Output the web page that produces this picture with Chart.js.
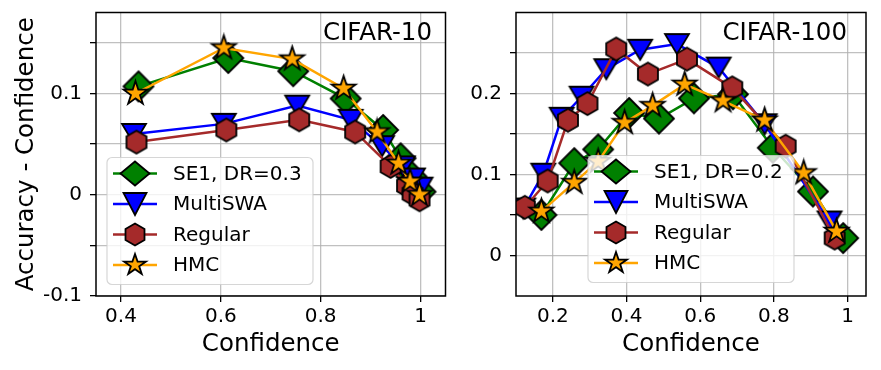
<!DOCTYPE html>
<html>
<head>
<meta charset="utf-8">
<script src="https://cdn.jsdelivr.net/npm/chart.js@4.4.1/dist/chart.umd.min.js"></script>
<style>
  body { margin: 0; background: #fff; }
  #wrap { position: relative; width: 881px; height: 370px; }
  #c10 { position: absolute; left: 0; top: 0; }
  #c100 { position: absolute; left: 450px; top: 0; }
</style>
</head>
<body>
<div id="wrap">
  <canvas id="c10" width="458" height="370"></canvas>
  <canvas id="c100" width="431" height="370"></canvas>
</div>
<script>
// ---- data: CIFAR-10 ----
const se1Conf10 = [0.435, 0.615, 0.745, 0.85, 0.925, 0.96, 0.982, 1.0];
const se1Gap10  = [0.107, 0.135, 0.122, 0.095, 0.064, 0.036, 0.018, 0.003];
const swaConf10 = [0.426, 0.606, 0.753, 0.86, 0.923, 0.965, 0.985, 1.0];
const swaGap10  = [0.060, 0.070, 0.088, 0.074, 0.048, 0.028, 0.016, 0.007];
const regConf10 = [0.431, 0.611, 0.757, 0.869, 0.94, 0.973, 0.984, 0.998];
const regGap10  = [0.052, 0.064, 0.074, 0.062, 0.028, 0.009, 0.001, -0.005];
const hmcConf10 = [0.429, 0.606, 0.743, 0.846, 0.913, 0.956, 0.979, 0.998];
const hmcGap10  = [0.100, 0.145, 0.134, 0.105, 0.062, 0.031, 0.013, 0.000];

// ---- data: CIFAR-100 ----
const se1Conf100 = [0.169, 0.258, 0.323, 0.407, 0.488, 0.583, 0.689, 0.797, 0.906, 0.988];
const se1Gap100  = [0.05, 0.114, 0.131, 0.176, 0.169, 0.194, 0.199, 0.133, 0.079, 0.0215];
const swaConf100 = [0.12, 0.174, 0.224, 0.278, 0.345, 0.437, 0.537, 0.65, 0.775, 0.951];
const swaGap100  = [0.058, 0.101, 0.17, 0.196, 0.23, 0.254, 0.261, 0.232, 0.162, 0.042];
const regConf100 = [0.124, 0.186, 0.241, 0.294, 0.372, 0.458, 0.564, 0.687, 0.832, 0.965];
const regGap100  = [0.0595, 0.092, 0.167, 0.1875, 0.255, 0.224, 0.2425, 0.207, 0.135, 0.0215];
const hmcConf100 = [0.169, 0.258, 0.323, 0.395, 0.471, 0.558, 0.662, 0.775, 0.881, 0.97];
const hmcGap100  = [0.0545, 0.09, 0.116, 0.164, 0.185, 0.2113, 0.191, 0.167, 0.102, 0.0297];

const labels10  = ['SE1, DR=0.3', 'MultiSWA', 'Regular', 'HMC'];
const labels100 = ['SE1, DR=0.2', 'MultiSWA', 'Regular', 'HMC'];

const xTicks10  = [0.4, 0.6, 0.8, 1];
const yTicks10  = [-0.1, -0.05, 0, 0.05, 0.1, 0.15];
const xTicks100 = [0.2, 0.4, 0.6, 0.8, 1];
const yTicks100 = [0, 0.05, 0.1, 0.15, 0.2, 0.25];

// ---- styling ----
const FONT = "'DejaVu Sans', sans-serif";
const colors = ['#008000', '#0000ff', '#a52a2a', '#ffa500'];
const shapes = ['diamond', 'triangle', 'hexagon', 'star'];
const plotSize = [[15, 15], [12, 10], [10, 11.5], [12.5, 12.5]];
const legendSize = [[14.5, 12], [11.5, 11], [9.5, 11], [11.5, 11]];

function tracePath(g, shape, hw, hh) {
  g.beginPath();
  if (shape === 'diamond') {
    g.moveTo(0, -hh); g.lineTo(hw, 0); g.lineTo(0, hh); g.lineTo(-hw, 0);
  } else if (shape === 'triangle') {
    g.moveTo(-hw, -hh); g.lineTo(hw, -hh); g.lineTo(0, hh);
  } else if (shape === 'hexagon') {
    g.moveTo(0, -hh); g.lineTo(hw, -hh / 2); g.lineTo(hw, hh / 2);
    g.lineTo(0, hh); g.lineTo(-hw, hh / 2); g.lineTo(-hw, -hh / 2);
  } else {
    for (let k = 0; k < 10; k++) {
      const a = -Math.PI / 2 + k * Math.PI / 5;
      const r = k % 2 ? 0.382 : 1;
      const px = Math.cos(a) * r * hw, py = Math.sin(a) * r * hh;
      if (k === 0) g.moveTo(px, py); else g.lineTo(px, py);
    }
  }
  g.closePath();
}

function drawMarker(g, shape, fill, hw, hh) {
  tracePath(g, shape, hw, hh);
  g.fillStyle = fill;
  g.fill();
  g.lineWidth = 1.8;
  g.strokeStyle = '#000';
  g.lineJoin = 'miter';
  g.stroke();
}

function markerCanvas(i) {
  const [hw, hh] = plotSize[i];
  const c = document.createElement('canvas');
  c.width = Math.round(hw * 2 + 6);
  c.height = Math.round(hh * 2 + 6);
  const g = c.getContext('2d');
  g.translate(c.width / 2, c.height / 2);
  drawMarker(g, shapes[i], colors[i], hw, hh);
  return c;
}

const markers = shapes.map((s, i) => markerCanvas(i));

function fmt(v) {
  return String(Math.round(v * 100) / 100);
}

function isMajor(v) {
  return Math.abs(v * 10 - Math.round(v * 10)) < 1e-6;
}

// frame, panel title and legend drawn on top
const decor = {
  id: 'decor',
  afterDraw(chart, args, o) {
    const g = chart.ctx;
    const a = chart.chartArea;
    g.save();
    g.strokeStyle = '#000';
    g.lineWidth = 1.5;
    g.strokeRect(a.left, a.top, a.right - a.left, a.bottom - a.top);

    g.fillStyle = '#000';
    g.font = '24.5px ' + FONT;
    g.textAlign = 'right';
    g.textBaseline = 'middle';
    g.fillText(o.title, a.right - o.titleRight, a.top + 21);

    // legend
    const lx = a.left + o.legendX, ly = a.top + o.legendY;
    const lw = 206, lh = 127;
    g.beginPath();
    g.roundRect(lx, ly, lw, lh, 5);
    g.fillStyle = 'rgba(255,255,255,0.8)';
    g.fill();
    g.strokeStyle = 'rgba(204,204,204,0.8)';
    g.lineWidth = 1.2;
    g.stroke();
    o.labels.forEach((txt, i) => {
      const y = ly + 16 + i * 30.5;
      g.strokeStyle = colors[i];
      g.lineWidth = 2.5;
      g.beginPath();
      g.moveTo(lx + 6, y);
      g.lineTo(lx + 50, y);
      g.stroke();
      g.save();
      g.translate(lx + 28, y);
      drawMarker(g, shapes[i], colors[i], legendSize[i][0], legendSize[i][1]);
      g.restore();
      g.fillStyle = '#000';
      g.font = '20px ' + FONT;
      g.textAlign = 'left';
      g.textBaseline = 'middle';
      g.fillText(txt, lx + 66, y + 1);
    });
    g.restore();
  }
};

function makeDatasets(confs, gaps, labels) {
  return confs.map((xs, i) => ({
    label: labels[i],
    data: xs.map((x, j) => ({ x: x, y: gaps[i][j] })),
    showLine: true,
    borderColor: colors[i],
    borderWidth: 2.5,
    pointStyle: markers[i],
    pointRadius: 10,
    order: 3 - i
  }));
}

function axisCommon(ticks, showLabel) {
  return {
    type: 'linear',
    afterBuildTicks: s => { s.ticks = ticks.map(v => ({ value: v })); },
    ticks: {
      color: '#000',
      font: { family: FONT, size: 20 },
      autoSkip: false,
      maxRotation: 0,
      callback: v => showLabel(v) ? fmt(v) : ''
    },
    grid: {
      color: 'rgba(176,176,176,0.8)',
      lineWidth: 1.3,
      tickColor: '#000',
      tickLength: 6,
      tickWidth: 1.3
    },
    border: { display: false }
  };
}

function noPad(s) {
  s.paddingTop = 0; s.paddingBottom = 0;
  s.paddingLeft = 0; s.paddingRight = 0;
}

function makeChart(id, cfg) {
  const x = axisCommon(cfg.xTicks, v => true);
  x.min = cfg.xMin; x.max = cfg.xMax;
  x.ticks.padding = 3;
  x.title = {
    display: true, text: 'Confidence', color: '#000',
    font: { family: FONT, size: 24.5 }, padding: { top: 0, bottom: 11 }
  };
  x.afterFit = s => { s.height = 74; noPad(s); };

  const y = axisCommon(cfg.yTicks, isMajor);
  y.min = cfg.yMin; y.max = cfg.yMax;
  y.ticks.padding = 8;
  if (cfg.yTitle) {
    y.title = {
      display: true, text: cfg.yTitle, color: '#000',
      font: { family: FONT, size: 24.5 }, padding: { top: 12, bottom: 0 }
    };
  }
  y.afterFit = s => { s.width = cfg.yWidth; noPad(s); };

  return new Chart(document.getElementById(id), {
    type: 'scatter',
    data: { datasets: makeDatasets(cfg.confs, cfg.gaps, cfg.labels) },
    options: {
      responsive: false,
      animation: false,
      events: [],
      layout: { padding: { left: 0, top: 12, right: cfg.rightPad, bottom: 0 } },
      scales: { x: x, y: y },
      plugins: {
        legend: { display: false },
        tooltip: { enabled: false },
        decor: cfg.decor
      }
    },
    plugins: [decor]
  });
}

makeChart('c10', {
  confs: [se1Conf10, swaConf10, regConf10, hmcConf10],
  gaps: [se1Gap10, swaGap10, regGap10, hmcGap10],
  labels: labels10,
  xTicks: xTicks10, yTicks: yTicks10,
  xMin: 0.35, xMax: 1.05, yMin: -0.1, yMax: 0.18,
  yTitle: 'Accuracy - Confidence',
  yWidth: 96, rightPad: 5,
  decor: { title: 'CIFAR-10', titleRight: 13.5, labels: labels10, legendX: 11, legendY: 145 }
});

makeChart('c100', {
  confs: [se1Conf100, swaConf100, regConf100, hmcConf100],
  gaps: [se1Gap100, swaGap100, regGap100, hmcGap100],
  labels: labels100,
  xTicks: xTicks100, yTicks: yTicks100,
  xMin: 0.1, xMax: 1.05, yMin: -0.05, yMax: 0.3,
  yTitle: null,
  yWidth: 66, rightPad: 15,
  decor: { title: 'CIFAR-100', titleRight: 19, labels: labels100, legendX: 72, legendY: 143 }
});
</script>
</body>
</html>
